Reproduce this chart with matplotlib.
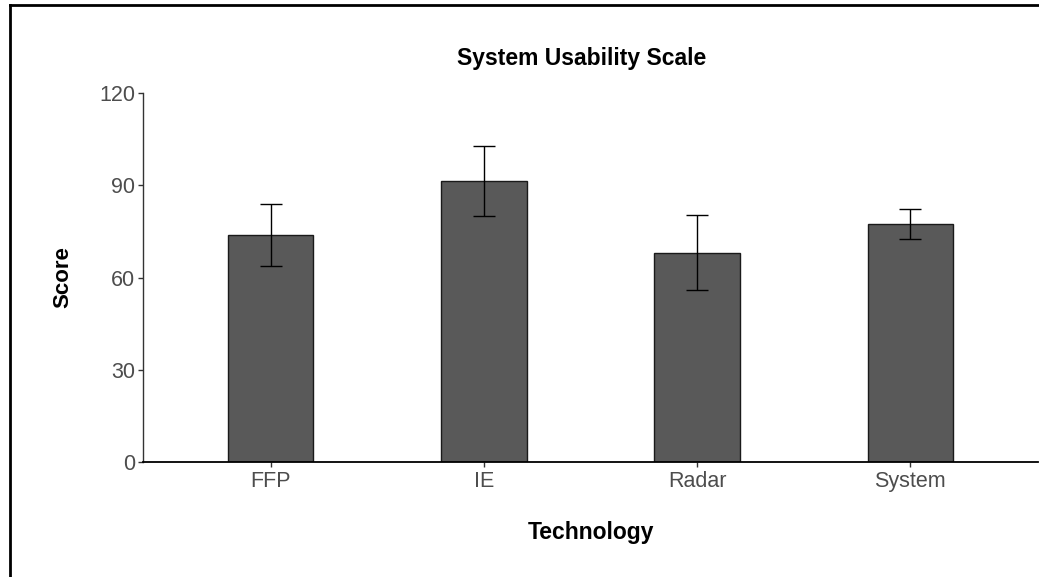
import numpy as np
import matplotlib
matplotlib.use('Agg')
from matplotlib import pyplot as plt
from matplotlib.lines import Line2D

# データ
technology = ['FFP', 'IE', 'Radar', 'System']
score_mean = [73.9, 91.5, 68.1, 77.5]
score_err = [10.0, 11.4, 12.2, 4.9]
y_ticks = [0, 30, 60, 90, 120]

plt.rcParams['font.family'] = ['Liberation Sans', 'DejaVu Sans']

fig = plt.figure(figsize=(10.39, 5.77), dpi=100)
ax = fig.add_axes([143 / 1039, 1 - 462 / 577, (1038 - 143) / 1039, (462 - 93) / 577])

x = np.arange(len(technology))
ax.bar(x, score_mean, width=0.4, color='#595959', edgecolor='#1a1a1a', linewidth=1.0, zorder=2)
ax.errorbar(x, score_mean, yerr=score_err, fmt='none', ecolor='black',
            elinewidth=1.0, capsize=7.6, capthick=1.0, zorder=3)

ax.set_xlim(-0.6, len(technology) - 0.4)
ax.set_ylim(0, 120)
ax.set_xticks(x)
ax.set_xticklabels(technology)
ax.set_yticks(y_ticks)

for side in ['top', 'right']:
   ax.spines[side].set_visible(False)
ax.spines['left'].set_color('#333333')
ax.spines['bottom'].set_color('black')
ax.spines['left'].set_linewidth(1.0)
ax.spines['bottom'].set_linewidth(1.3)
ax.tick_params(axis='both', colors='#333333', labelcolor='#4d4d4d', labelsize=15.5,
               length=3.5, width=1.0)
ax.tick_params(axis='y', pad=2)
ax.tick_params(axis='x', pad=3)

ax.set_xlabel('Technology', fontsize=16.5, fontweight='bold', labelpad=21)
ax.set_ylabel('Score', fontsize=16, fontweight='bold', labelpad=19)
ax.set_title('System Usability Scale', fontsize=16.5, fontweight='bold', pad=20.5, x=0.49)

# 外枠（左と上）
fig.add_artist(Line2D([9.5 / 1039, 9.5 / 1039], [0, 1 - 5 / 577], color='black', lw=2,
                      transform=fig.transFigure))
fig.add_artist(Line2D([9.5 / 1039, 1], [1 - 5 / 577, 1 - 5 / 577], color='black', lw=2,
                      transform=fig.transFigure))

fig.savefig('out.png', dpi=100)
